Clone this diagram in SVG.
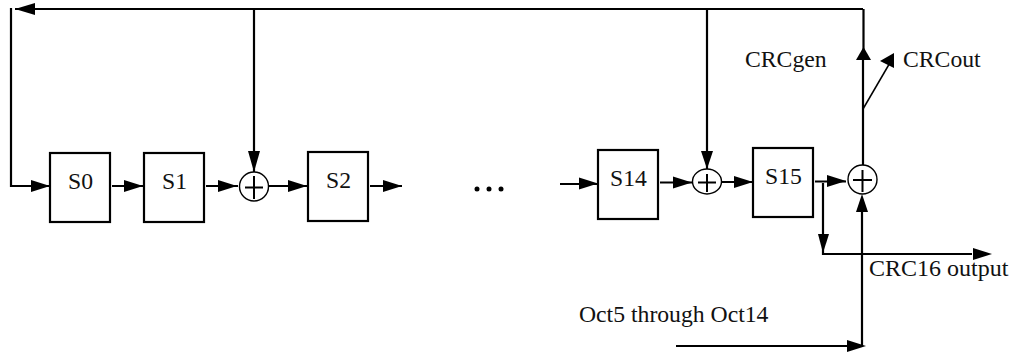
<svg xmlns="http://www.w3.org/2000/svg" width="1015" height="353" viewBox="0 0 1015 353">
<style>
text{font-family:"Liberation Serif","Times New Roman",serif;font-size:23.7px;fill:#111}
.box{fill:#fff;stroke:#000;stroke-width:2.2}
.xor{fill:#fff;stroke:#000;stroke-width:1.4}
.plus{fill:none;stroke:#000;stroke-width:2}
.w{fill:none;stroke:#000;stroke-width:2.2}
.t{stroke:none;fill:#000}
</style>
<defs>
<polygon id="r" class="t" points="0,0 -19,-6 -19,6"/>
</defs>
<g id="connectors">
<path class="w" d="M863 9H15"/><path class="w" d="M11 8V186H50"/>
<path class="w" d="M254 9V172"/><path class="w" d="M707 9V169"/>
<path class="w" d="M112 186H143M206 186H238M268 186H307M370 186H402"/>
<path class="w" d="M560 184H598M660 182.500H692M721 182H753M815 181.500H846"/>
<path class="w" d="M863.500 9V60M863 60V166"/>
<path d="M863 109L891 61" fill="none" stroke="#000" stroke-width="1.500"/>
<path class="w" d="M823 183V254H972"/>
<path class="w" d="M862 346V200M676 346H850"/>
<polygon class="t" points="15,9 35,3 35,15"/>
<use href="#r" x="50" y="186"/><use href="#r" x="143" y="186"/><use href="#r" x="237" y="186"/><use href="#r" x="307" y="186"/><use href="#r" x="402" y="186"/>
<use href="#r" x="598" y="183.500"/><use href="#r" x="692" y="182.500"/><use href="#r" x="753" y="182"/><use href="#r" x="846" y="181"/>
<use href="#r" x="992" y="254"/><use href="#r" x="866" y="346"/>
<polygon class="t" points="254,172 248,151 260,151"/>
<polygon class="t" points="707,169 701,151 713,151"/>
<polygon class="t" points="863.500,47 856,60 871,60"/>
<polygon class="t" points="880,61 894,53 894,68"/>
<polygon class="t" points="823,253 818,234 829,234"/>
<polygon class="t" points="862,194 856,212 868,212"/>
<g id="dots"><circle class="t" cx="477" cy="189" r="2.500"/><circle class="t" cx="489" cy="189" r="2.500"/><circle class="t" cx="501" cy="189" r="2.500"/></g>
</g>
<g id="S0"><rect class="box" x="50" y="153" width="60" height="69"/><text x="68" y="189">S0</text></g>
<g id="S1"><rect class="box" x="144" y="153" width="60" height="69"/><text x="162" y="189">S1</text></g>
<g id="X1"><circle class="xor" cx="254" cy="186.500" r="14.500"/><path class="plus" d="M245 187.500H263M254 176V199"/></g>
<g id="S2"><rect class="box" x="308" y="152" width="60" height="69"/><text x="326" y="188">S2</text></g>
<g id="S14"><rect class="box" x="598" y="150" width="60" height="69"/><text x="610" y="186">S14</text></g>
<g id="X14"><ellipse class="xor" cx="707" cy="181.500" rx="14.500" ry="12.500"/><path class="plus" d="M698 182.500H716M707 174V192"/></g>
<g id="S15"><rect class="box" x="753" y="148" width="60" height="69"/><text x="765" y="184">S15</text></g>
<g id="X15"><circle class="xor" cx="862.500" cy="179.500" r="14.500"/><path class="plus" d="M853 180H872M862.500 170V192"/></g>
<g id="labels">
<text x="745" y="67">CRCgen</text>
<text x="903" y="67">CRCout</text>
<text x="869" y="276" font-size="24" style="font-size:24px">CRC16 output</text>
<text x="579" y="322">Oct5 through Oct14</text>
</g>
</svg>
